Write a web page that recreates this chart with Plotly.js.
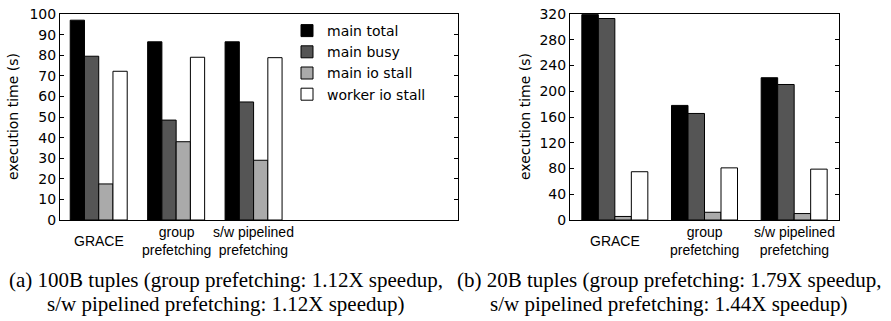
<!DOCTYPE html>
<html>
<head>
<meta charset="utf-8">
<script src="https://cdn.plot.ly/plotly-3.0.1.min.js"></script>
<style>html,body{margin:0;padding:0;background:#fff;}#chart{width:891px;height:321px;}</style>
</head>
<body>
<div id="chart"></div>
<script>
// ---- data ----
var categories = ["GRACE", "group<br>prefetching", "s/w pipelined<br>prefetching"];
var categoryPos = [1, 2, 3];
var seriesNames = ["main total", "main busy", "main io stall", "worker io stall"];
var seriesColors = ["#000000", "#555555", "#aaaaaa", "#ffffff"];

// (a) 100B tuples
var a_mainTotal = [97, 86.5, 86.5];
var a_mainBusy = [79.5, 48.5, 57.3];
var a_mainIoStall = [17.5, 38, 29];
var a_workerIoStall = [72.2, 79, 78.8];

// (b) 20B tuples
var b_mainTotal = [319, 178, 221];
var b_mainBusy = [313, 165.5, 210.5];
var b_mainIoStall = [5.5, 12, 10];
var b_workerIoStall = [75, 81, 79];

var yTitle = "execution time (s)";
var captionA = ["(a) 100B tuples (group prefetching: 1.12X speedup,", "s/w pipelined prefetching: 1.12X speedup)"];
var captionB = ["(b) 20B tuples (group prefetching: 1.79X speedup,", "s/w pipelined prefetching: 1.44X speedup)"];

// ---- traces ----
var aSeries = [a_mainTotal, a_mainBusy, a_mainIoStall, a_workerIoStall];
var bSeries = [b_mainTotal, b_mainBusy, b_mainIoStall, b_workerIoStall];
var traces = [];
aSeries.forEach(function (vals, i) {
  traces.push({
    type: "bar", x: categoryPos, y: vals, name: seriesNames[i],
    xaxis: "x", yaxis: "y",
    marker: {color: seriesColors[i], line: {color: "#000", width: 1}},
    showlegend: true, hoverinfo: "skip"
  });
});
bSeries.forEach(function (vals, i) {
  traces.push({
    type: "bar", x: categoryPos, y: vals, name: seriesNames[i],
    xaxis: "x2", yaxis: "y2",
    marker: {color: seriesColors[i], line: {color: "#000", width: 1}},
    showlegend: false, hoverinfo: "skip"
  });
});

var W = 891, H = 321;
function px(x) { return x / W; }
function py(y) { return 1 - y / H; }

var sans = "DejaVu Sans, sans-serif";
var axisCommon = {
  showline: true, linecolor: "#000", linewidth: 1, mirror: "allticks",
  ticks: "inside", ticklen: 4, tickcolor: "#000", tickwidth: 1,
  showgrid: false, zeroline: false,
  tickfont: {family: sans, size: 14, color: "#000"}, fixedrange: true
};
var xCommon = {
  showline: true, linecolor: "#000", linewidth: 1, mirror: true,
  ticks: "", showticklabels: false, showgrid: false, zeroline: false, fixedrange: true
};

var annotations = [];
categories.forEach(function (c, i) {
  ["x", "x2"].forEach(function (xr) {
    annotations.push({
      xref: xr, yref: "paper", x: categoryPos[i], y: py(241), text: c,
      showarrow: false, xanchor: "center", yanchor: "middle",
      font: {family: "Liberation Sans, Arial, sans-serif", size: 14, color: "#000"}
    });
  });
});
annotations.push({xref: "paper", yref: "paper", x: px(13), y: py(117), text: yTitle, textangle: -90,
  showarrow: false, xanchor: "center", yanchor: "middle", font: {family: sans, size: 14, color: "#000"}});
annotations.push({xref: "paper", yref: "paper", x: px(525), y: py(117), text: yTitle, textangle: -90,
  showarrow: false, xanchor: "center", yanchor: "middle", font: {family: sans, size: 14, color: "#000"}});
var serif = "Liberation Serif, Times New Roman, serif";
[[captionA, 226], [captionB, 669]].forEach(function (cp) {
  cp[0].forEach(function (line, j) {
    annotations.push({xref: "paper", yref: "paper", x: px(cp[1]), y: py(j === 0 ? 280 : 304), text: line,
      showarrow: false, xanchor: "center", yanchor: "middle", font: {family: serif, size: 21, color: "#000"}});
  });
});

var layout = {
  width: W, height: H,
  margin: {l: 0, r: 0, t: 0, b: 0},
  paper_bgcolor: "#fff", plot_bgcolor: "#fff",
  barmode: "group", bargap: 0.264, bargroupgap: 0,
  showlegend: true,
  legend: {
    x: px(287), y: py(15), xanchor: "left", yanchor: "top",
    bgcolor: "rgba(0,0,0,0)", borderwidth: 0,
    font: {family: sans, size: 14, color: "#000"},
    traceorder: "normal", tracegroupgap: 0
  },
  xaxis: Object.assign({}, xCommon, {domain: [px(60), px(458)], range: [0.5, 5.64], anchor: "y"}),
  yaxis: Object.assign({}, axisCommon, {domain: [py(220), py(14)], range: [0, 100], dtick: 10, tick0: 0, anchor: "x"}),
  xaxis2: Object.assign({}, xCommon, {domain: [px(570), px(839)], range: [0.5, 3.5], anchor: "y2"}),
  yaxis2: Object.assign({}, axisCommon, {domain: [py(220), py(14)], range: [0, 320], dtick: 40, tick0: 0, anchor: "x2"}),
  annotations: annotations
};

Plotly.newPlot("chart", traces, layout, {staticPlot: true, displayModeBar: false});
</script>
</body>
</html>
